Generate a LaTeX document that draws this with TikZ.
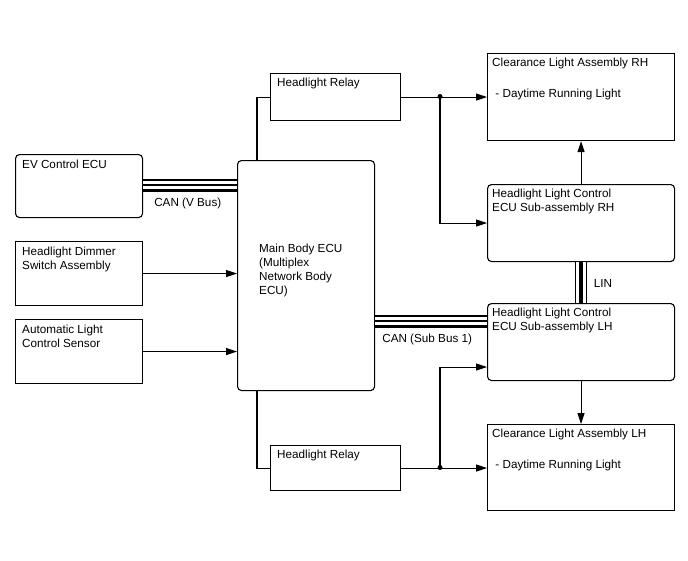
\documentclass[tikz,border=0pt]{standalone}
\usepackage{fontspec}
\setmainfont{Liberation Sans}
\usetikzlibrary{arrows.meta}
\begin{document}
\begin{tikzpicture}[x=1pt,y=-1pt,
  box/.style={draw, line width=1.1pt, anchor=north west, inner sep=0pt},
  rbox/.style={box, rounded corners=4pt},
  txt/.style={anchor=north west, inner sep=0pt, align=left, font=\fontsize{11.7}{14}\selectfont},
  lbl/.style={txt, anchor=west},
  wire/.style={line width=1.1pt},
  arr/.style={wire, -{Triangle[length=11pt,width=7pt]}},
  cana/.style={line width=13pt, black},
  canb/.style={line width=7.5pt, white},
  canc/.style={line width=2pt, black},
  lina/.style={line width=12pt, black},
  linb/.style={line width=9.4pt, white},
  linc/.style={line width=4pt, black},
  dot/.style={circle, fill=black, inner sep=0pt, minimum size=5pt}
]
\useasboundingbox[fill=white] (0,0) rectangle (688,560);

% boxes
\node[rbox, minimum width=127pt, minimum height=63pt] (ev) at (15,154) {};
\node[box, minimum width=127pt, minimum height=64pt] (dim) at (15,241) {};
\node[box, minimum width=127pt, minimum height=64pt] (als) at (15,319) {};
\node[rbox, minimum width=137pt, minimum height=230pt] (main) at (237,160) {};
\node[box, minimum width=130pt, minimum height=47pt] (relT) at (270,73) {};
\node[box, minimum width=130pt, minimum height=45pt] (relB) at (270,445) {};
\node[box, minimum width=187pt, minimum height=87pt] (clrh) at (487,53) {};
\node[rbox, minimum width=187pt, minimum height=77pt] (rh) at (487,184) {};
\node[rbox, minimum width=187pt, minimum height=77pt] (lh) at (487,303) {};
\node[box, minimum width=187pt, minimum height=86pt] (cllh) at (487,424) {};

% texts
\node[txt] (tev) at ([xshift=7pt,yshift=-6pt]ev.north west) {EV Control ECU};
\node[txt] (tdim) at ([xshift=7pt,yshift=-5.5pt]dim.north west) {Headlight Dimmer\\Switch Assembly};
\node[txt] (tals) at ([xshift=7pt,yshift=-5.5pt]als.north west) {Automatic Light\\Control Sensor};
\node[txt] (tmain) at ([xshift=22pt,yshift=-84pt]main.north west) {Main Body ECU\\(Multiplex\\Network Body\\ECU)};
\node[txt] (trelT) at ([xshift=7pt,yshift=-5pt]relT.north west) {Headlight Relay};
\node[txt] (trelB) at ([xshift=7pt,yshift=-5pt]relB.north west) {Headlight Relay};
\node[txt] (tclrh) at ([xshift=5pt,yshift=-5pt]clrh.north west) {Clearance Light Assembly RH\\[17pt]\ - Daytime Running Light};
\node[txt] (trh) at ([xshift=5pt,yshift=-5pt]rh.north west) {Headlight Light Control\\ECU Sub-assembly RH};
\node[txt] (tlh) at ([xshift=5pt,yshift=-5pt]lh.north west) {Headlight Light Control\\ECU Sub-assembly LH};
\node[txt] (tcllh) at ([xshift=5pt,yshift=-5pt]cllh.north west) {Clearance Light Assembly LH\\[17pt]\ - Daytime Running Light};

% buses
\foreach \s in {cana,canb,canc}{
  \draw[\s] ([yshift=1pt]ev.east) -- ([yshift=1pt]ev.east -| main.west);
  \draw[\s] ([yshift=21pt]lh.west) -- ([yshift=21pt]lh.west -| main.east);
}
\foreach \s in {lina,linb,linc}{
  \draw[\s] (rh.south) -- (lh.north);
}
\node[lbl] (lcanv) at ([xshift=11pt,yshift=-17pt]ev.east) {CAN (V Bus)};
\node[lbl] (lcans) at ([xshift=7pt,yshift=3pt]main.east |- lh.west) {CAN (Sub Bus 1)};
\node[lbl] (llin) at ([xshift=12.5pt,yshift=-21pt]rh.south) {LIN};

% arrows from inputs
\draw[arr] (dim.east) -- (dim.east -| main.west);
\draw[arr] (als.east) -- (als.east -| main.west);

% relays
\draw[wire] ([xshift=20pt]main.north west) |- (relT.west);
\draw[wire] ([xshift=20pt]main.south west) |- (relB.west);
\coordinate (jt) at (440,96.5);
\coordinate (jb) at (440,467.5);
\draw[arr] (relT.east) -- (relT.east -| clrh.west);
\draw[arr] (relB.east) -- (relB.east -| cllh.west);
\node[dot] (djt) at (jt) {};
\node[dot] (djb) at (jb) {};
\draw[arr] (jt) |- (rh.west);
\draw[arr] (jb) |- ([yshift=-25pt]lh.west);

% vertical arrows
\draw[arr] (rh.north) -- (clrh.south);
\draw[arr] (lh.south) -- (cllh.north);
\end{tikzpicture}
\end{document}
